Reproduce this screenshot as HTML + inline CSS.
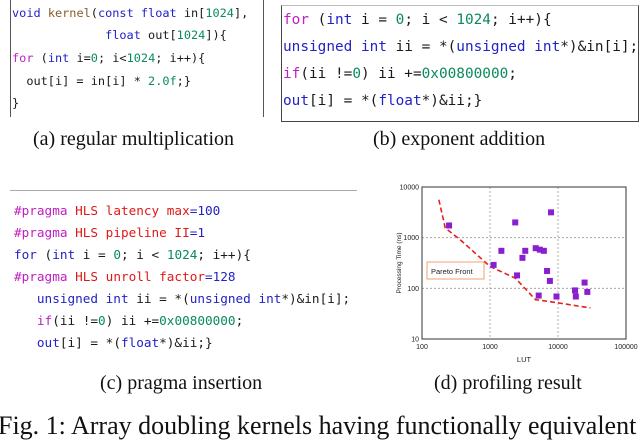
<!DOCTYPE html>
<html><head><meta charset="utf-8">
<style>
html,body{margin:0;padding:0;background:#fff;}
body{width:640px;height:426px;position:relative;overflow:hidden;font-family:"Liberation Sans",sans-serif;}
.code{position:absolute;font-family:"DejaVu Sans Mono","Liberation Mono",monospace;white-space:pre;color:#1a1a1a;}
.ln{position:absolute;left:0;white-space:pre;}
.k{color:#2222c8}.m{color:#c020c0}.n{color:#0a8a5a}.b{color:#8b5a2b}.r{color:#e01818}
.cap{position:absolute;font-family:"Liberation Serif",serif;font-size:20px;color:#111;white-space:nowrap;}
</style></head><body>

<div style="position:absolute;left:10px;top:0;width:252px;height:117px;border-left:1px solid #555;border-right:1px solid #555;"></div>
<div class="code" style="left:12px;top:6px;font-size:11.9px;">
<div class="ln" style="top:0"><span class="k">void</span> <span class="b">kernel</span>(<span class="k">const float</span> in[<span class="n">1024</span>],</div>
<div class="ln" style="top:22px">             <span class="k">float</span> out[<span class="n">1024</span>]){</div>
<div class="ln" style="top:45px"><span class="m">for</span> (<span class="k">int</span> i=<span class="n">0</span>; i&lt;<span class="n">1024</span>; i++){</div>
<div class="ln" style="top:68px">  out[i] = in[i] * <span class="n">2.0f</span>;}</div>
<div class="ln" style="top:90px">}</div>
</div>

<div style="position:absolute;left:281px;top:5px;width:356px;height:115px;border:1px solid #444;border-top-color:#bbb;"></div>
<div class="code" style="left:283px;top:12px;font-size:14.4px;">
<div class="ln" style="top:0"><span class="m">for</span> (<span class="k">int</span> i = <span class="n">0</span>; i &lt; <span class="n">1024</span>; i++){</div>
<div class="ln" style="top:27px"><span class="k">unsigned int</span> ii = *(<span class="k">unsigned int</span>*)&amp;in[i];</div>
<div class="ln" style="top:54px"><span class="m">if</span>(ii !=<span class="n">0</span>) ii +=<span class="n">0x00800000</span>;</div>
<div class="ln" style="top:81px"><span class="k">out</span>[i] = *(<span class="k">float</span>*)&amp;ii;}</div>
</div>

<div style="position:absolute;left:10px;top:190px;width:347px;height:1px;background:#aaa;"></div>
<div class="code" style="left:14px;top:203px;font-size:12.7px;">
<div class="ln" style="top:0"><span class="m">#pragma</span> <span class="r">HLS latency max</span><span class="k">=100</span></div>
<div class="ln" style="top:22px"><span class="m">#pragma</span> <span class="r">HLS pipeline II</span><span class="k">=1</span></div>
<div class="ln" style="top:44px"><span class="k">for</span> (<span class="k">int</span> i = <span class="n">0</span>; i &lt; <span class="n">1024</span>; i++){</div>
<div class="ln" style="top:66px"><span class="m">#pragma</span> <span class="r">HLS unroll factor</span><span class="k">=128</span></div>
<div class="ln" style="top:88px">   <span class="k">unsigned int</span> ii = *(<span class="k">unsigned int</span>*)&amp;in[i];</div>
<div class="ln" style="top:110px">   <span class="m">if</span>(ii !=<span class="n">0</span>) ii +=<span class="n">0x00800000</span>;</div>
<div class="ln" style="top:132px">   <span class="k">out</span>[i] = *(<span class="k">float</span>*)&amp;ii;}</div>
</div>

<svg id="chart" style="position:absolute;left:390px;top:175px;" width="250" height="195" xmlns="http://www.w3.org/2000/svg"></svg>

<div class="cap" style="left:33px;top:128px;">(a) regular multiplication</div>
<div class="cap" style="left:373px;top:128px;">(b) exponent addition</div>
<div class="cap" style="left:100px;top:372px;">(c) pragma insertion</div>
<div class="cap" style="left:434px;top:372px;">(d) profiling result</div>
<div class="cap" style="left:-2px;top:411px;font-size:26px;">Fig. 1: Array doubling kernels having functionally equivalent</div>

<script>
const xTicks = [100, 1000, 10000, 100000];
const yTicks = [10, 100, 1000, 10000];
const xTickLabels = ["100", "1000", "10000", "100000"];
const yTickLabels = ["10", "100", "1000", "10000"];
const designLUT = [250, 2350, 7900, 1470, 3300, 3000, 4700, 5400, 6200, 1130, 2500, 6900, 7600, 5200, 9500, 17800, 18300, 24600, 27000];
const designTime = [1740, 2000, 3160, 550, 550, 400, 620, 580, 550, 290, 180, 220, 140, 72, 69, 91, 69, 130, 85];
const paretoLUT = [177, 220, 365, 1000, 2370, 4650, 9700, 30000];
const paretoTime = [5600, 1550, 910, 270, 158, 60, 52, 41];

const NS = "http://www.w3.org/2000/svg";
const svg = document.getElementById("chart");
const L = 32, R = 236, T = 12, B = 164;
const xs = v => L + (Math.log10(v) - 2) / 3 * (R - L);
const ys = v => B - (Math.log10(v) - 1) / 3 * (B - T);
function mk(tag, attrs){ const e = document.createElementNS(NS, tag); for (const k in attrs) e.setAttribute(k, attrs[k]); svg.appendChild(e); return e; }

xTicks.forEach((t, i) => {
  const g = mk("line", {x1: xs(t), x2: xs(t), y1: T, y2: B, stroke: "#999", "stroke-width": 0.8, "stroke-dasharray": "2,2"});
  
  
  const tx = mk("text", {x: xs(t), y: B + 10, "font-size": 7, "text-anchor": "middle", fill: "#222"});
  tx.textContent = xTickLabels[i];
  
  
});
yTicks.forEach((t, i) => {
  const g = mk("line", {x1: L, x2: R, y1: ys(t), y2: ys(t), stroke: "#999", "stroke-width": 0.8, "stroke-dasharray": "2,2"});
  
  
  const tx = mk("text", {x: L - 3, y: ys(t) + 2.5, "font-size": 7, "text-anchor": "end", fill: "#222"});
  tx.textContent = yTickLabels[i];
  
  
});
const frame = mk("rect", {x: L, y: T, width: R - L, height: B - T, fill: "none", stroke: "#333", "stroke-width": 1});



const pts = paretoLUT.map((v, i) => xs(v) + "," + ys(paretoTime[i])).join(" ");
const pl = mk("polyline", {points: pts, fill: "none", stroke: "#e52020", "stroke-width": 1.6, "stroke-dasharray": "5,3"});



designLUT.forEach((v, i) => {
  const r = mk("rect", {x: xs(v) - 3, y: ys(designTime[i]) - 3, width: 6, height: 6, fill: "#8a1fd0"});
  
  
});

const lb = mk("rect", {x: 37, y: 87, width: 57, height: 17, fill: "#fff", stroke: "#f0a070", "stroke-width": 1});


const lt = mk("text", {x: 41, y: 99, "font-size": 7.5, fill: "#222"});
lt.textContent = "Pareto Front";



const xt = mk("text", {x: (L + R) / 2, y: B + 23, "font-size": 7.5, "text-anchor": "middle", fill: "#222"});
xt.textContent = "LUT";


const yt = mk("text", {x: 0, y: 0, "font-size": 6.5, "text-anchor": "middle", fill: "#222", transform: "translate(11," + ((T + B) / 2) + ") rotate(-90)"});
yt.textContent = "Processing Time (ns)";


</script>
</body></html>
